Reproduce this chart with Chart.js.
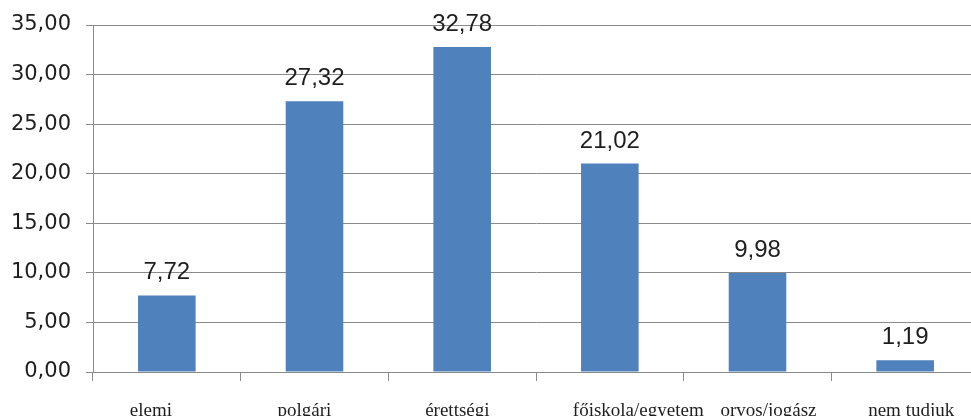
<!DOCTYPE html>
<html>
<head>
<meta charset="utf-8">
<script src="https://cdn.jsdelivr.net/npm/chart.js@4/dist/chart.umd.min.js"></script>
<style>
    html, body { margin: 0; padding: 0; background: #fff; overflow: hidden; }
    #wrap { width: 985px; height: 440px; position: relative; }
</style>
</head>
<body>
<div id="wrap"><canvas id="chart"></canvas></div>
<script>
const categories = ['elemi', 'polgári', 'érettségi', 'főiskola/egyetem', 'orvos/jogász', 'nem tudjuk'];
const values = [7.72, 27.32, 32.78, 21.02, 9.98, 1.19];
const yTicks = [0, 5, 10, 15, 20, 25, 30, 35];

const fmt = (v) => v.toFixed(2).replace('.', ',');

// value labels above the bars
const barLabels = {
    id: 'barLabels',
    afterDatasetsDraw(chart) {
        const ctx = chart.ctx;
        const meta = chart.getDatasetMeta(0);
        ctx.save();
        ctx.font = '24px "Liberation Sans", Arial, sans-serif';
        ctx.fillStyle = '#1e1e1e';
        ctx.textAlign = 'center';
        ctx.textBaseline = 'alphabetic';
        meta.data.forEach((bar, i) => {
            ctx.fillText(fmt(values[i]), bar.x, bar.y - 16);
        });
        ctx.restore();
    }
};

var ctx = document.getElementById('chart').getContext('2d');
var chart = new Chart(ctx, {
    type: 'bar',
    data: {
        labels: categories,
        datasets: [{
            data: values,
            backgroundColor: '#4f81bd',
            borderWidth: 0,
            categoryPercentage: 1,
            barPercentage: 0.39
        }]
    },
    options: {
        responsive: true,
        maintainAspectRatio: false,
        animation: false,
        layout: {
            padding: { top: 25, right: 6, left: 0, bottom: 0 }
        },
        scales: {
            y: {
                min: 0,
                max: 35,
                afterBuildTicks: (scale) => {
                    scale.ticks = yTicks.map(v => ({ value: v }));
                },
                afterFit: (scale) => {
                    scale.width = 93;
                    scale.paddingTop = 0;
                    scale.paddingBottom = 0;
                },
                grid: { color: '#8a8a8a', tickLength: 7, tickColor: '#8a8a8a' },
                border: { color: '#8a8a8a' },
                ticks: {
                    padding: 15,
                    color: '#1e1e1e',
                    font: { family: '"DejaVu Sans", Verdana, sans-serif', size: 21 },
                    callback: (value) => fmt(value)
                }
            },
            x: {
                afterFit: (scale) => {
                    scale.height = 68;
                    scale.paddingLeft = 0;
                    scale.paddingRight = 0;
                },
                grid: { offset: true, drawOnChartArea: false, tickLength: 9, color: '#8a8a8a' },
                border: { color: '#8a8a8a' },
                ticks: {
                    padding: 19,
                    align: 'start',
                    labelOffset: -37,
                    maxRotation: 0,
                    autoSkip: false,
                    color: '#1e1e1e',
                    font: { family: '"Liberation Serif", "Times New Roman", serif', size: 19 }
                }
            }
        },
        plugins: { legend: { display: false }, tooltip: { enabled: false } }
    },
    plugins: [barLabels]
});
</script>
</body>
</html>
